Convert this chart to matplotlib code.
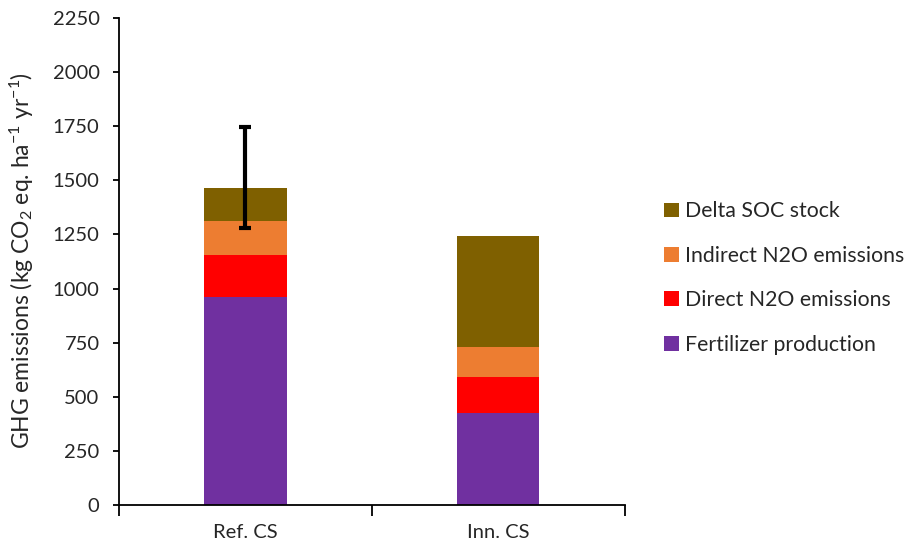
import matplotlib.pyplot as plt
import numpy as np

plt.rcParams['font.family'] = ['Lato', 'DejaVu Sans']
plt.rcParams['mathtext.fontset'] = 'custom'
plt.rcParams['mathtext.rm'] = 'Lato'
plt.rcParams['mathtext.it'] = 'Lato'

categories = ['Ref. CS', 'Inn. CS']
series_names = ['Fertilizer production', 'Direct N2O emissions',
                'Indirect N2O emissions', 'Delta SOC stock']
fertilizer = [960, 426]
direct_n2o = [197, 167]
indirect_n2o = [153, 138]
delta_soc = [155, 510]
err_low = [183, 0]
err_high = [280, 0]
colors = ['#7030A0', '#FF0000', '#ED7D31', '#7F6000']

fig = plt.figure(figsize=(9.13, 5.46), dpi=100)
ax = fig.add_axes([0.1303, 0.075, 0.554, 0.892])

x = np.arange(len(categories))
bottom = np.zeros(len(categories))
for name, vals, c in zip(series_names, [fertilizer, direct_n2o, indirect_n2o, delta_soc], colors):
    ax.bar(x, vals, width=0.325, bottom=bottom, color=c, label=name)
    bottom += np.array(vals)

# error bar only on the reference system
ax.errorbar(x[0], bottom[0], yerr=[[err_low[0]], [err_high[0]]], fmt='none',
            ecolor='black', elinewidth=3, capsize=4.5, capthick=3)

ax.set_xlim(-0.5, 1.5)
ax.set_ylim(0, 2250)
ax.set_yticks(np.arange(0, 2251, 250))
ax.set_xticks(x)
ax.set_xticklabels(categories)
ax.set_xticks([-0.5, 0.5, 1.5], minor=True)
ax.tick_params(axis='x', which='major', length=0, pad=14, labelsize=14.5, labelcolor='#262626')
ax.tick_params(axis='x', which='minor', length=8, width=1.3, direction='out')
ax.tick_params(axis='y', length=4, width=1.3, pad=10, labelsize=14.5, labelcolor='#262626')
for s in ['top', 'right']:
    ax.spines[s].set_visible(False)
for s in ['left', 'bottom']:
    ax.spines[s].set_linewidth(1.3)
fig.text(0.024, 0.522, 'GHG emissions (kg CO$_2$ eq. ha$^{-1}$ yr$^{-1}$)',
         rotation=90, ha='center', va='center', fontsize=16.5, color='#262626')

h, l = ax.get_legend_handles_labels()
fig.legend(h[::-1], l[::-1], loc='upper left', bbox_to_anchor=(0.706, 0.666),
           frameon=False, fontsize=15.3, handlelength=0.7, handleheight=0.7,
           labelspacing=1.15, handletextpad=0.3, labelcolor='#262626')

fig.savefig('out.png', dpi=100)
